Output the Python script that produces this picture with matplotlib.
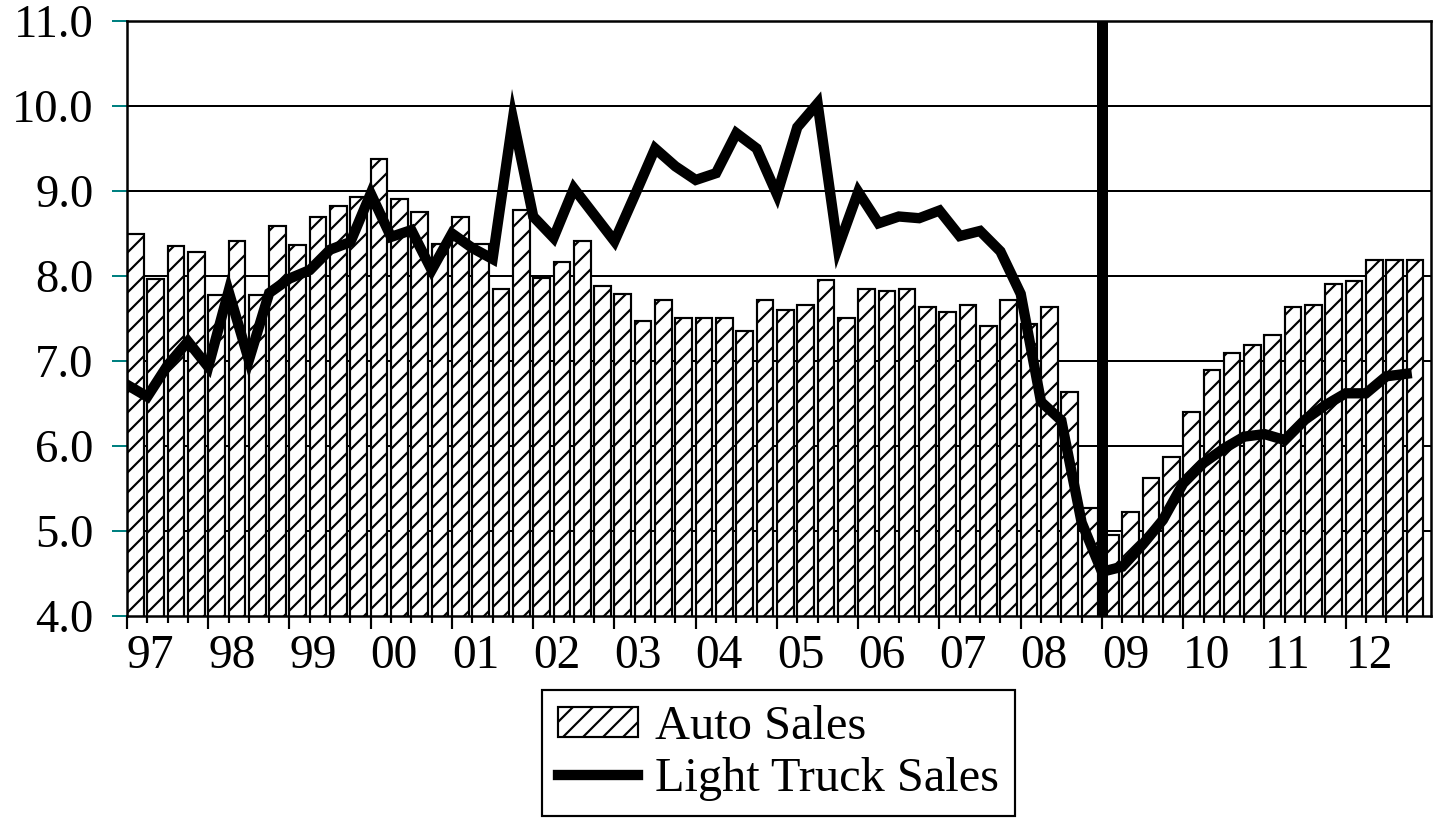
import numpy as np
import matplotlib.pyplot as plt

# quarterly values, 1997Q1 .. 2012Q4
auto_sales = [8.49, 7.97, 8.35, 8.28,
              7.78, 8.41, 7.78, 8.59,
              8.37, 8.69, 8.82, 8.93,
              9.38, 8.91, 8.75, 8.38,
              8.69, 8.38, 7.85, 8.78,
              7.98, 8.16, 8.41, 7.88,
              7.79, 7.47, 7.72, 7.51,
              7.51, 7.51, 7.35, 7.72,
              7.60, 7.66, 7.95, 7.51,
              7.85, 7.82, 7.85, 7.63,
              7.58, 7.66, 7.41, 7.72,
              7.44, 7.63, 6.64, 5.27,
              4.95, 5.22, 5.62, 5.87,
              6.40, 6.90, 7.10, 7.19,
              7.31, 7.63, 7.66, 7.91,
              7.94, 8.19, 8.19, 8.19]

truck_sales = [6.72, 6.58, 6.95, 7.23,
               6.93, 7.82, 7.01, 7.80,
               7.97, 8.07, 8.31, 8.40,
               8.97, 8.46, 8.54, 8.07,
               8.50, 8.33, 8.20, 9.85,
               8.70, 8.45, 9.03, 8.72,
               8.41, 8.95, 9.50, 9.29,
               9.13, 9.21, 9.68, 9.50,
               8.96, 9.75, 10.03, 8.33,
               8.99, 8.62, 8.70, 8.68,
               8.77, 8.47, 8.53, 8.29,
               7.79, 6.52, 6.30, 5.10,
               4.52, 4.58, 4.84, 5.13,
               5.56, 5.80, 5.97, 6.11,
               6.14, 6.07, 6.31, 6.48,
               6.62, 6.62, 6.82, 6.85]

year_labels = ['97', '98', '99', '00', '01', '02', '03', '04',
               '05', '06', '07', '08', '09', '10', '11', '12']
marker_year = '09'

DPI = 120
plt.rcParams['font.family'] = ['Liberation Serif', 'DejaVu Serif']
plt.rcParams['hatch.linewidth'] = 1.3

fig = plt.figure(figsize=(1439 / DPI, 818 / DPI), dpi=DPI)
ax = fig.add_axes([127 / 1439, 1 - 616 / 818, (1431 - 127) / 1439, (616 - 21) / 818])

q = np.arange(len(auto_sales))

# gridlines behind the bars
for v in range(5, 11):
    ax.axhline(v, color='black', lw=1.2, zorder=1)

bars = ax.bar(q, auto_sales, width=0.82, align='edge', color='white', edgecolor='black',
              hatch='//', linewidth=1.3, zorder=2, label='Auto Sales')
line, = ax.plot(q, truck_sales, color='black', lw=6.2, solid_joinstyle='miter',
                zorder=3, label='Light Truck Sales')
ax.axvline(year_labels.index(marker_year) * 4, color='black', lw=6.6, zorder=4)

ax.set_xlim(0, 64.2)
ax.set_ylim(4, 11)

ax.set_yticks(np.arange(4, 11.1, 1))
ax.set_yticklabels(['%.1f' % v for v in np.arange(4, 11.1, 1)])
ax.tick_params(axis='y', length=9, width=1.2, color='#008080', pad=11, labelsize=28)

major = np.arange(len(year_labels)) * 4
ax.set_xticks(major)
ax.set_xticklabels(year_labels)
ax.set_xticks([k for k in range(1, 64) if k % 4], minor=True)
ax.tick_params(axis='x', which='major', length=8, width=1.3, pad=3, labelsize=28.5)
ax.tick_params(axis='x', which='minor', length=4, width=1.3)
for lab in ax.get_xticklabels():
    lab.set_ha('left')

for s in ax.spines.values():
    s.set_linewidth(1.5)
    s.set_zorder(5)

leg = fig.legend([bars, line], ['Auto Sales', 'Light Truck Sales'],
                 loc='upper center', bbox_to_anchor=(0.541, 0.157), fontsize=29,
                 frameon=True, fancybox=False, edgecolor='black', framealpha=1,
                 handlelength=1.67, handleheight=0.58, handletextpad=0.35,
                 labelspacing=0.16, borderpad=0.32, borderaxespad=0)
leg.get_frame().set_linewidth(1.3)

fig.savefig('out.png', dpi=DPI)
